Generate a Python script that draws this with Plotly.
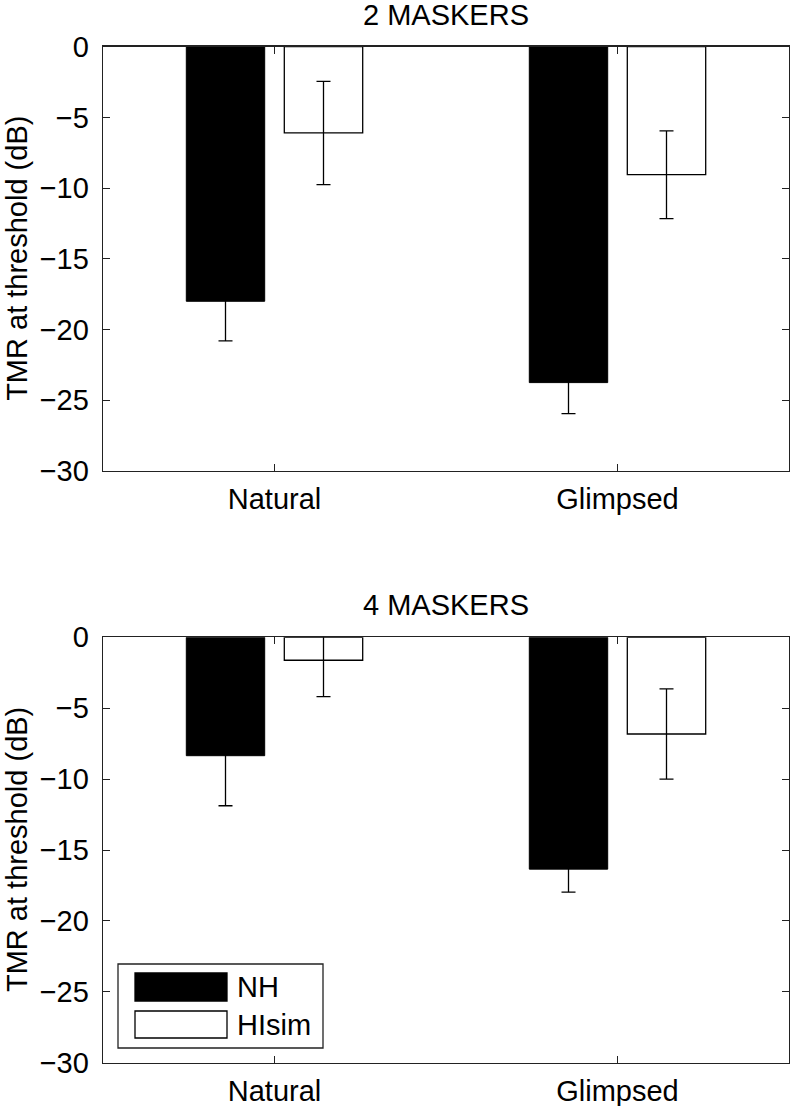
import plotly.graph_objects as go

categories = ["Natural", "Glimpsed"]
cat_pos = [1, 2]
series_names = ["NH", "HIsim"]

nh_2 = [-18.0, -23.75]
nh_2_err = [2.8, 2.2]
hi_2 = [-6.1, -9.05]
hi_2_err = [3.65, 3.1]

nh_4 = [-8.35, -16.35]
nh_4_err = [3.53, 1.62]
hi_4 = [-1.62, -6.82]
hi_4_err = [2.57, 3.18]

panel_titles = ["2 MASKERS", "4 MASKERS"]
y_ticks = [0, -5, -10, -15, -20, -25, -30]
y_ticklabels = ["0", "\u22125", "\u221210", "\u221215", "\u221220", "\u221225", "\u221230"]
y_label = "TMR at threshold (dB)"

W, H = 791, 1106
FONT = dict(family="Liberation Sans, Arial, Helvetica, sans-serif", size=29, color="black")
AX = "#222222"

def px_x(p):
    return p / W

def px_y(p):
    return 1 - p / H

fig = go.Figure()

panels = [
    (nh_2, nh_2_err, hi_2, hi_2_err),
    (nh_4, nh_4_err, hi_4, hi_4_err),
]
axes_px = [(46.7, 471.0), (637.3, 1062.7)]
x_px = (103.0, 789.0)

for i, (nh, nh_e, hi, hi_e) in enumerate(panels):
    xa = "x" if i == 0 else "x2"
    ya = "y" if i == 0 else "y2"
    fig.add_trace(go.Bar(
        x=cat_pos, y=nh, name=series_names[0], xaxis=xa, yaxis=ya,
        marker=dict(color="black", line=dict(color="black", width=1)),
        error_y=dict(type="data", array=nh_e, color="black", thickness=1.3, width=7),
        showlegend=False, offsetgroup="a", hoverinfo="skip",
    ))
    fig.add_trace(go.Bar(
        x=cat_pos, y=hi, name=series_names[1], xaxis=xa, yaxis=ya,
        marker=dict(color="white", line=dict(color="black", width=1.3)),
        error_y=dict(type="data", array=hi_e, color="black", thickness=1.3, width=7),
        showlegend=False, offsetgroup="b", hoverinfo="skip",
    ))

common_x = dict(
    range=[0.5, 2.5], tickvals=cat_pos, ticktext=categories,
    showline=True, linecolor=AX, linewidth=1.3, mirror="ticks",
    ticks="inside", ticklen=7, tickcolor=AX, tickwidth=1,
    showgrid=False, zeroline=False, tickfont=FONT, ticklabelstandoff=2,
    automargin=False,
    domain=[px_x(x_px[0]), px_x(x_px[1])],
)
common_y = dict(
    range=[-30, 0], tickvals=y_ticks, ticktext=y_ticklabels,
    showline=True, linecolor=AX, linewidth=1.3, mirror="ticks",
    ticks="inside", ticklen=7, tickcolor=AX, tickwidth=1,
    showgrid=False, zeroline=False, tickfont=FONT, ticklabelstandoff=7,
    automargin=False,
)

fig.update_layout(
    template="none",
    width=W, height=H,
    margin=dict(l=0, r=0, t=0, b=0, pad=0),
    paper_bgcolor="white", plot_bgcolor="white",
    barmode="group", bargap=1 - 2 / 3.5, bargroupgap=0.2,
    showlegend=False,
    font=FONT,
    xaxis=dict(common_x, anchor="y"),
    yaxis=dict(common_y, anchor="x", domain=[px_y(axes_px[0][1]), px_y(axes_px[0][0])]),
    xaxis2=dict(common_x, anchor="y2"),
    yaxis2=dict(common_y, anchor="x2", domain=[px_y(axes_px[1][1]), px_y(axes_px[1][0])]),
)

annotations = []
for i, (t, b) in enumerate(axes_px):
    annotations.append(dict(
        text=panel_titles[i], xref="paper", yref="paper",
        x=px_x((x_px[0] + x_px[1]) / 2), y=px_y(t - 32), xanchor="center", yanchor="middle",
        showarrow=False, font=FONT,
    ))
    annotations.append(dict(
        text=y_label, xref="paper", yref="paper", textangle=-90,
        x=px_x(17), y=px_y((t + b) / 2), xanchor="center", yanchor="middle",
        showarrow=False, font=FONT,
    ))

# legend (drawn manually to match the original box style)
shapes = [
    dict(type="rect", xref="paper", yref="paper",
         x0=px_x(118), x1=px_x(323), y0=px_y(1048), y1=px_y(964),
         line=dict(color=AX, width=1.3), fillcolor="white", layer="above"),
    dict(type="rect", xref="paper", yref="paper",
         x0=px_x(135), x1=px_x(227), y0=px_y(1001), y1=px_y(973),
         line=dict(color="black", width=1.3), fillcolor="black", layer="above"),
    dict(type="rect", xref="paper", yref="paper",
         x0=px_x(135), x1=px_x(227), y0=px_y(1038), y1=px_y(1011),
         line=dict(color="black", width=1.3), fillcolor="white", layer="above"),
]
for name, cy in zip(series_names, [987, 1024.5]):
    annotations.append(dict(
        text=name, xref="paper", yref="paper",
        x=px_x(235), y=px_y(cy), xanchor="left", yanchor="middle",
        showarrow=False, font=FONT,
    ))

fig.update_layout(annotations=annotations, shapes=shapes)

fig.write_html(
    "out.html",
    config={"displayModeBar": False, "staticPlot": True},
    post_script="document.body.style.margin='0px';document.documentElement.style.overflow='hidden';",
)
